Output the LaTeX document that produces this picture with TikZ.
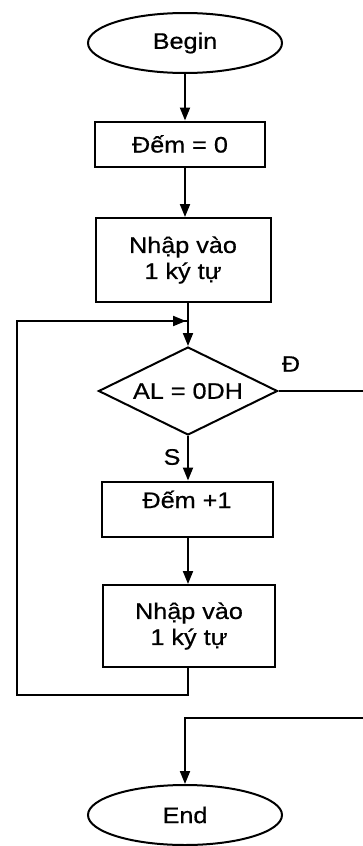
\documentclass[tikz,border=0pt]{standalone}
\usepackage{fontspec}
\setmainfont[FakeStretch=1.12,FakeBold=0.6]{Liberation Sans}
\usetikzlibrary{shapes.geometric,arrows.meta}
\begin{document}
\begin{tikzpicture}[x=1pt,y=-1pt,
  every node/.style={font=\fontsize{22.5}{26}\selectfont},
  base/.style={draw,line width=2pt,inner sep=0pt,align=center},
  term/.style={base,ellipse,minimum width=194pt,minimum height=60pt},
  proc/.style={base,rectangle},
  dec/.style={base,diamond,aspect=2,minimum width=179pt,minimum height=88pt},
  conn/.style={line width=2pt},
  arr/.style={conn,-{Triangle[length=13pt,width=10pt]}},
  lbl/.style={inner sep=0pt}]
\useasboundingbox (0,0) rectangle (363,846);

\node[term] (begin) at (185,43) {Begin};
\node[proc,minimum width=170pt,minimum height=45pt] (b1) at (180,144) {Đếm = 0};
\node[proc,minimum width=175pt,minimum height=84pt] (b2) at (183,260) {Nhập vào\\1 ký tự};
\node[dec] (d) at (188,391) {AL = 0DH};
\node[proc,minimum width=171pt,minimum height=55pt,text height=16pt,text depth=18pt] (b3) at (187,509) {Đếm +1};
\node[proc,minimum width=172pt,minimum height=82pt] (b4) at (189,626) {Nhập vào\\1 ký tự};
\node[term] (end) at (185,815) {End};

\node[lbl] (lt) at (291,364) {Đ};
\node[lbl] (ls) at (172,457) {S};

\coordinate (loopL) at (17,695);
\coordinate (join) at (188,321);
\coordinate (R1) at (372,718);

\draw[arr] (begin.south) -- (begin.south |- b1.north);
\draw[arr] (b1.south -| begin.south) -- (begin.south |- b2.north);
\draw[arr] (b2.south -| d.north) -- (d.north);
\draw[arr] (d.south) -- (d.south |- b3.north);
\draw[arr] (b3.south -| d.south) -- (d.south |- b4.north);
\draw[conn] (b4.south -| d.south) |- (loopL) |- (join);
\draw[arr,shorten >=2pt] (loopL |- join) -- (join);
\draw[arr] (d.east) -| (R1) -| (end.north);
\end{tikzpicture}
\end{document}
